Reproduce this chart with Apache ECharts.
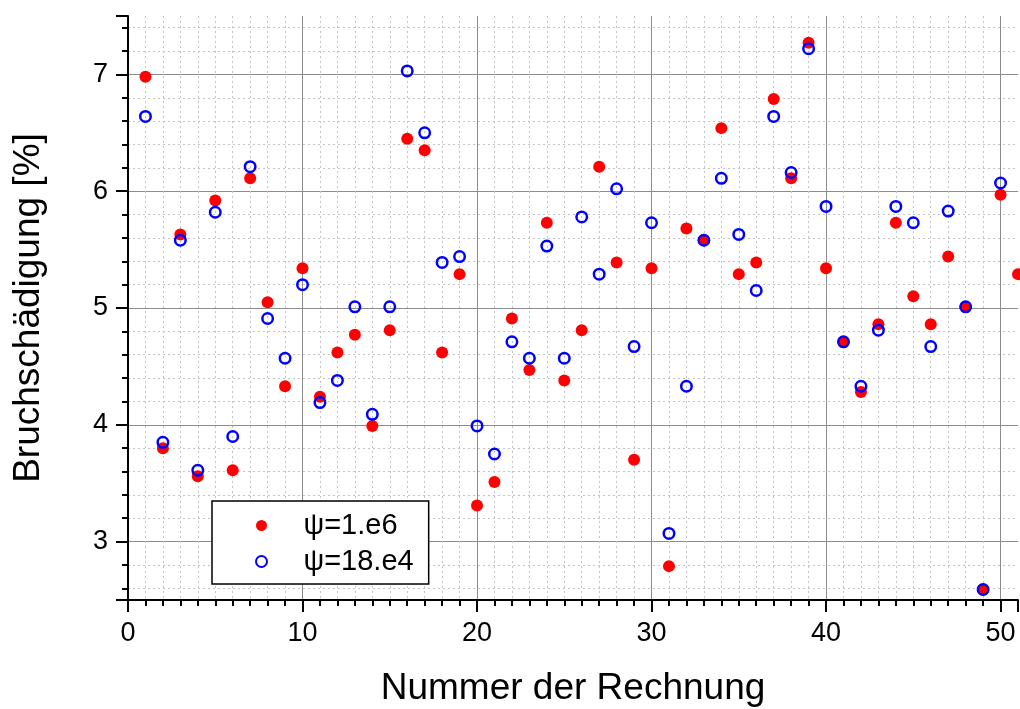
<!DOCTYPE html>
<html>
<head>
<meta charset="utf-8">
<script src="https://cdn.jsdelivr.net/npm/echarts@6/dist/echarts.min.js"></script>
<style>
html,body{margin:0;padding:0;background:#fff;}
#chart{width:1020px;height:709px;}
</style>
</head>
<body>
<div id="chart"></div>
<script>
// Run numbers (x categories)
const runs = [1,2,3,4,5,6,7,8,9,10,11,12,13,14,15,16,17,18,19,20,21,22,23,24,25,26,27,28,29,30,31,32,33,34,35,36,37,38,39,40,41,42,43,44,45,46,47,48,49,50,51];
// Bruchschädigung [%] for psi = 1.e6
const psi1e6 = [6.98,3.80,5.63,3.56,5.92,3.61,6.11,5.05,4.33,5.34,4.24,4.62,4.77,3.99,4.81,6.45,6.35,4.62,5.29,3.31,3.51,4.91,4.47,5.73,4.38,4.81,6.21,5.39,3.70,5.34,2.79,5.68,5.58,6.54,5.29,5.39,6.79,6.11,7.27,5.34,4.71,4.28,4.86,5.73,5.10,4.86,5.44,5.01,2.59,5.97,5.29];
// Bruchschädigung [%] for psi = 18.e4
const psi18e4 = [6.64,3.85,5.58,3.61,5.82,3.90,6.21,4.91,4.57,5.20,4.19,4.38,5.01,4.09,5.01,7.03,6.50,5.39,5.44,3.99,3.75,4.71,4.57,5.53,4.57,5.78,5.29,6.02,4.67,5.73,3.07,4.33,5.58,6.11,5.63,5.15,6.64,6.16,7.22,5.87,4.71,4.33,4.81,5.87,5.73,4.67,5.83,5.01,2.59,6.07];
const seriesNames = ['ψ=1.e6', 'ψ=18.e4'];
const xName = 'Nummer der Rechnung';
const yName = 'Bruchschädigung [%]';

const FONT = 'Liberation Sans, Arial, sans-serif';
const chart = echarts.init(document.getElementById('chart'), null, {renderer: 'canvas'});

const axisCommon = {
  axisLine: {show: true, onZero: false, lineStyle: {color: '#000', width: 2}},
  axisTick: {show: true, inside: false, length: 12, lineStyle: {color: '#000', width: 2}},
  minorTick: {show: true, length: 6, lineStyle: {color: '#000', width: 2}},
  splitLine: {show: true, showMinLine: false, showMaxLine: false, lineStyle: {color: '#8c8c8c', width: 1}},
  minorSplitLine: {show: true, lineStyle: {color: '#c4c4c4', width: 1, type: [2, 3]}},
  nameTextStyle: {fontFamily: FONT, fontSize: 37, color: '#000'}
};

chart.setOption({
  animation: false,
  backgroundColor: '#fff',
  grid: {left: 128, right: 2, top: 16, bottom: 109, containLabel: false, outerBoundsMode: 'none'},
  legend: {
    orient: 'vertical',
    left: 212, top: 501,
    padding: [10, 15, 8, 43],
    itemGap: 7,
    itemWidth: 74, itemHeight: 11,
    borderColor: '#000', borderWidth: 1.5,
    backgroundColor: '#fff',
    textStyle: {fontFamily: FONT, fontSize: 29, color: '#000'},
    data: seriesNames
  },
  xAxis: Object.assign({}, axisCommon, {
    type: 'value',
    min: 0, max: 51, interval: 10,
    minorTick: Object.assign({}, axisCommon.minorTick, {splitNumber: 10}),
    axisLabel: {fontFamily: FONT, fontSize: 27, color: '#000', margin: 20, showMaxLabel: false,
      formatter: v => (v % 10 === 0 ? String(v) : '')},
    name: xName, nameLocation: 'middle', nameGap: 70
  }),
  yAxis: Object.assign({}, axisCommon, {
    type: 'value',
    min: 2.5, max: 7.5, splitNumber: 5, minInterval: 1, maxInterval: 1,
    minorTick: Object.assign({}, axisCommon.minorTick, {splitNumber: 5}),
    axisLabel: {fontFamily: FONT, fontSize: 27, color: '#000', margin: 20, showMinLabel: false, showMaxLabel: false,
      formatter: v => (Math.abs(v - Math.round(v)) < 1e-9 ? String(Math.round(v)) : '')},
    name: yName, nameLocation: 'middle', nameGap: 81, nameRotate: 90
  }),
  series: [
    {
      name: seriesNames[0], type: 'scatter',
      symbol: 'circle', symbolSize: 12,
      itemStyle: {color: '#ff0000', opacity: 1},
      emphasis: {disabled: true},
      data: runs.map((r, i) => [r, psi1e6[i]]),
      z: 2
    },
    {
      name: seriesNames[1], type: 'scatter',
      symbol: 'circle', symbolSize: 10.5,
      itemStyle: {color: 'rgba(0,0,0,0)', borderColor: '#0000ff', borderWidth: 2.5, opacity: 1},
      emphasis: {disabled: true},
      data: psi18e4.map((v, i) => [runs[i], v]),
      z: 3
    }
  ]
});
</script>
</body>
</html>
